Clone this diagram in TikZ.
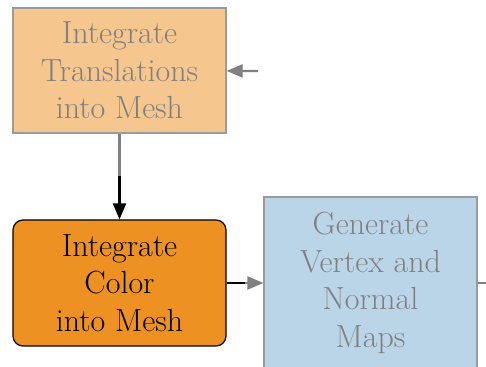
\documentclass[tikz,border=0pt]{standalone}
\usepackage{tikz}
\usepackage{xcolor}
\usetikzlibrary{arrows.meta,calc,positioning}
\definecolor{transfill}{RGB}{245,198,141}
\definecolor{colorfill}{RGB}{236,145,34}
\definecolor{mapfill}{RGB}{187,213,232}
\definecolor{fadegray}{RGB}{128,128,128}
\definecolor{edgegray}{RGB}{155,155,155}

\begin{document}
\begin{tikzpicture}[x=0.5pt,y=-0.5pt,>={Triangle[length=8pt,width=6.5pt]},
  stagebox/.style={draw=edgegray,line width=0.6pt,minimum width=106.5pt,align=center,
    font=\fontsize{16}{18.7}\selectfont,inner sep=0pt},
  fadebox/.style={stagebox,text=fadegray},
  fadeline/.style={fadegray,line width=1.1pt},
  darkline/.style={black,line width=1.1pt}]
  \useasboundingbox (0,0) rectangle (486,367);
  % stages
  \node[fadebox,fill=transfill,minimum height=62.5pt] (trans) at (119.5,70.5)
    {Integrate\\Translations\\into Mesh};
  \node[stagebox,draw=black,fill=colorfill,rounded corners=5pt,minimum height=63pt] (color) at (119.5,283)
    {Integrate\\Color\\into Mesh};
  \node[fadebox,fill=mapfill,minimum height=86pt] (maps) at (370.5,283)
    {Generate\\Vertex and\\Normal\\Maps};
  % connectors
  \coordinate (inTrans) at (258,71);
  \coordinate (outMaps) at (490,283);
  \coordinate (midTC) at ($(trans.south)!0.5!(color.north)$);
  \coordinate (midCM) at ($(color.east)!0.5!(maps.west)$);
  \draw[fadeline,->] (inTrans) -- (trans);
  \draw[fadeline] (trans) -- (midTC);
  \draw[darkline,->] (midTC) -- (color);
  \draw[darkline] (color) -- (midCM);
  \draw[fadeline,->] (midCM) -- (maps);
  \draw[fadeline] (maps) -- (outMaps);
\end{tikzpicture}
\end{document}
